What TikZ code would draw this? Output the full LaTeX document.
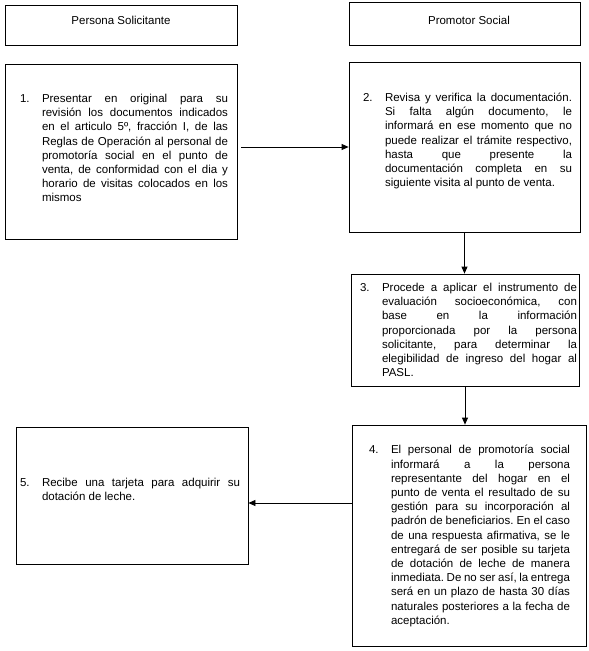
\documentclass[tikz,border=0pt]{standalone}
\usepackage{fontspec}
\setmainfont{Liberation Sans}
\usetikzlibrary{arrows.meta}

\tikzset{
  caja/.style={draw, line width=0.8pt, inner sep=0pt},
  texto/.style={inner sep=0pt, align=justify, font=\fontsize{11.5}{14.2}\selectfont},
  encabezado/.style={inner sep=0pt, font=\fontsize{11.5}{14.2}\selectfont},
  flecha/.style={line width=0.8pt, -{Triangle[length=7pt,width=6pt]}}
}
\newcommand{\paso}[2]{\frenchspacing\hyphenpenalty=10000\tolerance=9999\hangindent=22pt\hangafter=1\makebox[22pt][l]{#1}#2\par}

\begin{document}
\begin{tikzpicture}[x=1pt,y=-1pt]
  \useasboundingbox (0,0) rectangle (589,651);

  % encabezados
  \node[caja, minimum width=232pt, minimum height=40pt] (h1) at (121,25) {};
  \node[encabezado] (e1) at (121,20) {Persona Solicitante};
  \node[caja, minimum width=231pt, minimum height=43pt] (h2) at (464.5,23.5) {};
  \node[encabezado] (e2) at (469,20) {Promotor Social};

  % cajas de los pasos
  \node[caja, minimum width=232pt, minimum height=175pt] (p1) at (121,151.5) {};
  \node[caja, minimum width=231pt, minimum height=170pt] (p2) at (464.5,147) {};
  \node[caja, minimum width=228pt, minimum height=112pt] (p3) at (465,330) {};
  \node[caja, minimum width=234pt, minimum height=221pt] (p4) at (469,535.5) {};
  \node[caja, minimum width=232pt, minimum height=137pt] (p5) at (132,495.5) {};

  % textos
  \node[texto, text width=208pt] (t1) at (124,148) {\paso{1.}{Presentar en original para su \linebreak revisión los documentos indicados \linebreak en el articulo 5º, fracción I, de las \linebreak Reglas de Operación al personal de \linebreak promotoría social en el punto de \linebreak venta, de conformidad con el dia y \linebreak horario de visitas colocados en los \linebreak mismos}};
  \node[texto, text width=209pt] (t2) at (467.5,141) {\paso{2.}{Revisa y verifica la documentación. \linebreak Si falta algún documento, le \linebreak informará en ese momento que no \linebreak puede realizar el trámite respectivo, \linebreak hasta que presente la \linebreak documentación completa en su \linebreak siguiente visita al punto de venta.}};
  \node[texto, text width=217pt] (t3) at (468.5,330) {\paso{3.}{Procede a aplicar el instrumento de \linebreak evaluación socioeconómica, con \linebreak base en la información \linebreak proporcionada por la persona \linebreak solicitante, para determinar la \linebreak elegibilidad de ingreso del hogar al \linebreak PASL.}};
  \node[texto, text width=201pt] (t4) at (469.5,536) {\paso{4.}{El personal de promotoría social \linebreak informará a la persona \linebreak representante del hogar en el \linebreak punto de venta el resultado de su \linebreak gestión para su incorporación al \linebreak padrón de beneficiarios. En el caso \linebreak de una respuesta afirmativa, se le \linebreak entregará de ser posible su tarjeta \linebreak de dotación de leche de manera \linebreak inmediata. De no ser así, la entrega \linebreak será en un plazo de hasta 30 días \linebreak naturales posteriores a la fecha de \linebreak aceptación.}};
  \node[texto, text width=220pt] (t5) at (130,489) {\paso{5.}{Recibe una tarjeta para adquirir su \linebreak dotación de leche.}};

  % flechas
  \coordinate (c1) at ([xshift=4pt]p1.east);
  \draw[flecha] (c1 |- p2.west) -- (p2.west);
  \draw[flecha] (p2.south) -- (p2.south |- p3.north);
  \draw[flecha] (p3.south) -- (p3.south |- p4.north);
  \coordinate (c4) at ([yshift=-7.5pt]p5.east);
  \draw[flecha] (c4 -| p4.west) -- (c4);
\end{tikzpicture}
\end{document}
